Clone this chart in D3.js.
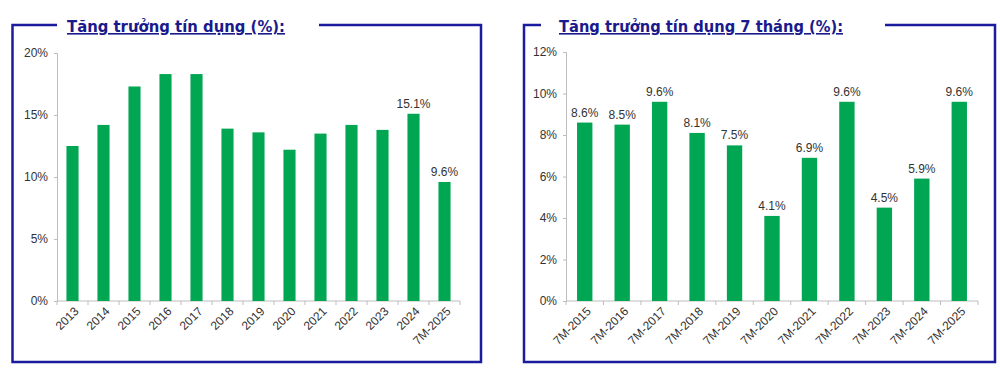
<!DOCTYPE html>
<html>
<head>
<meta charset="utf-8">
<script src="https://cdn.jsdelivr.net/npm/d3@7"></script>
<style>
  body { margin: 0; background: #fff; }
  svg { display: block; }
</style>
</head>
<body>
<div id="chart"></div>
<script>
// left panel: yearly credit growth
const yearCats = ['2013', '2014', '2015', '2016', '2017', '2018', '2019', '2020', '2021', '2022', '2023', '2024', '7M-2025'];
const yearVals = [12.5, 14.2, 17.3, 18.3, 18.3, 13.9, 13.6, 12.2, 13.5, 14.2, 13.8, 15.1, 9.6];
const yearLabelled = ['2024', '7M-2025'];
const yearTicks = [0, 5, 10, 15, 20];

// right panel: 7-month credit growth
const sevenCats = ['7M-2015', '7M-2016', '7M-2017', '7M-2018', '7M-2019', '7M-2020', '7M-2021', '7M-2022', '7M-2023', '7M-2024', '7M-2025'];
const sevenVals = [8.6, 8.5, 9.6, 8.1, 7.5, 4.1, 6.9, 9.6, 4.5, 5.9, 9.6];
const sevenTicks = [0, 2, 4, 6, 8, 10, 12];

const titles = ['Tăng trưởng tín dụng (%):', 'Tăng trưởng tín dụng 7 tháng (%):'];

const width = 1000, height = 373;
const green = '#00a651';
const navy = '#1b1b9e';
const font = '"Liberation Sans", Arial, sans-serif';

const svg = d3.select('#chart')
  .append('svg')
  .attr('width', width)
  .attr('height', height);

function drawPanel(p) {
  const g = svg.append('g');

  // frame with a gap in the top line for the title
  g.append('path')
    .attr('d', `M${p.gapL},${p.top} H${p.left} V${p.bottom} H${p.right} V${p.top} H${p.gapR}`)
    .attr('fill', 'none')
    .attr('stroke', navy)
    .attr('stroke-width', 2.5);

  g.append('text')
    .attr('x', p.titleX)
    .attr('y', p.top + 7)
    .attr('textLength', p.titleW)
    .attr('lengthAdjust', 'spacingAndGlyphs')
    .style('font-family', 'Tahoma, "DejaVu Sans", sans-serif')
    .style('font-weight', 'bold')
    .style('font-size', '16px')
    .style('text-decoration', 'underline')
    .attr('fill', '#1a1a8c')
    .text(p.title);

  const x = d3.scaleBand()
    .domain(p.cats)
    .range([p.x0, p.x1])
    .paddingInner(p.pad)
    .paddingOuter(p.pad / 2);

  const y = d3.scaleLinear()
    .domain([0, d3.max(p.ticks)])
    .range([p.y0, p.y1]);

  // y axis
  const yAxis = g.append('g')
    .attr('transform', `translate(${p.x0},0)`)
    .call(d3.axisLeft(y).tickValues(p.ticks).tickSize(3).tickPadding(6).tickFormat(d => d + '%'));
  yAxis.select('.domain').attr('stroke', '#bdbdbd');
  yAxis.selectAll('.tick line').attr('stroke', '#bdbdbd');
  yAxis.selectAll('text')
    .attr('fill', '#333')
    .style('font-family', font)
    .style('font-size', '12px');

  // x axis, ticks sit between the categories
  const step = x.step();
  const bounds = d3.range(p.cats.length + 1).map(i => p.x0 + i * step);
  g.append('line')
    .attr('x1', p.x0).attr('x2', p.x1)
    .attr('y1', p.y0).attr('y2', p.y0)
    .attr('stroke', '#bdbdbd');
  g.append('g')
    .selectAll('line')
    .data(bounds)
    .join('line')
    .attr('x1', d => d).attr('x2', d => d)
    .attr('y1', p.y0).attr('y2', p.y0 + 4)
    .attr('stroke', '#bdbdbd');

  g.append('g')
    .selectAll('text')
    .data(p.cats)
    .join('text')
    .attr('transform', d => `translate(${x(d) + x.bandwidth() / 2 + 4},${p.y0 + 8}) rotate(-45)`)
    .attr('text-anchor', 'end')
    .attr('dy', '0.35em')
    .style('font-family', font)
    .style('font-size', '12px')
    .attr('fill', '#333')
    .text(d => d);

  // bars
  g.append('g')
    .selectAll('rect')
    .data(p.vals)
    .join('rect')
    .attr('x', (d, i) => x(p.cats[i]))
    .attr('y', d => y(d))
    .attr('width', x.bandwidth())
    .attr('height', d => y(0) - y(d))
    .attr('fill', green);

  // value labels
  g.append('g')
    .selectAll('text')
    .data(p.vals.map((v, i) => ({ c: p.cats[i], v })).filter(d => p.labelled.includes(d.c)))
    .join('text')
    .attr('x', d => x(d.c) + x.bandwidth() / 2)
    .attr('y', d => y(d.v) - 6)
    .attr('text-anchor', 'middle')
    .style('font-family', font)
    .style('font-size', '12px')
    .attr('fill', '#333')
    .text(d => d.v.toFixed(1) + '%');
}

drawPanel({
  title: titles[0], titleX: 67, titleW: 218,
  left: 12.5, right: 481, top: 25, bottom: 362, gapL: 57, gapR: 319,
  cats: yearCats, vals: yearVals, labelled: yearLabelled, ticks: yearTicks,
  x0: 57, x1: 460, y0: 301, y1: 53, pad: 0.61
});

drawPanel({
  title: titles[1], titleX: 559, titleW: 284,
  left: 524, right: 995, top: 25, bottom: 362, gapL: 541, gapR: 885,
  cats: sevenCats, vals: sevenVals, labelled: sevenCats, ticks: sevenTicks,
  x0: 566, x1: 978, y0: 301, y1: 52, pad: 0.59
});
</script>
</body>
</html>
